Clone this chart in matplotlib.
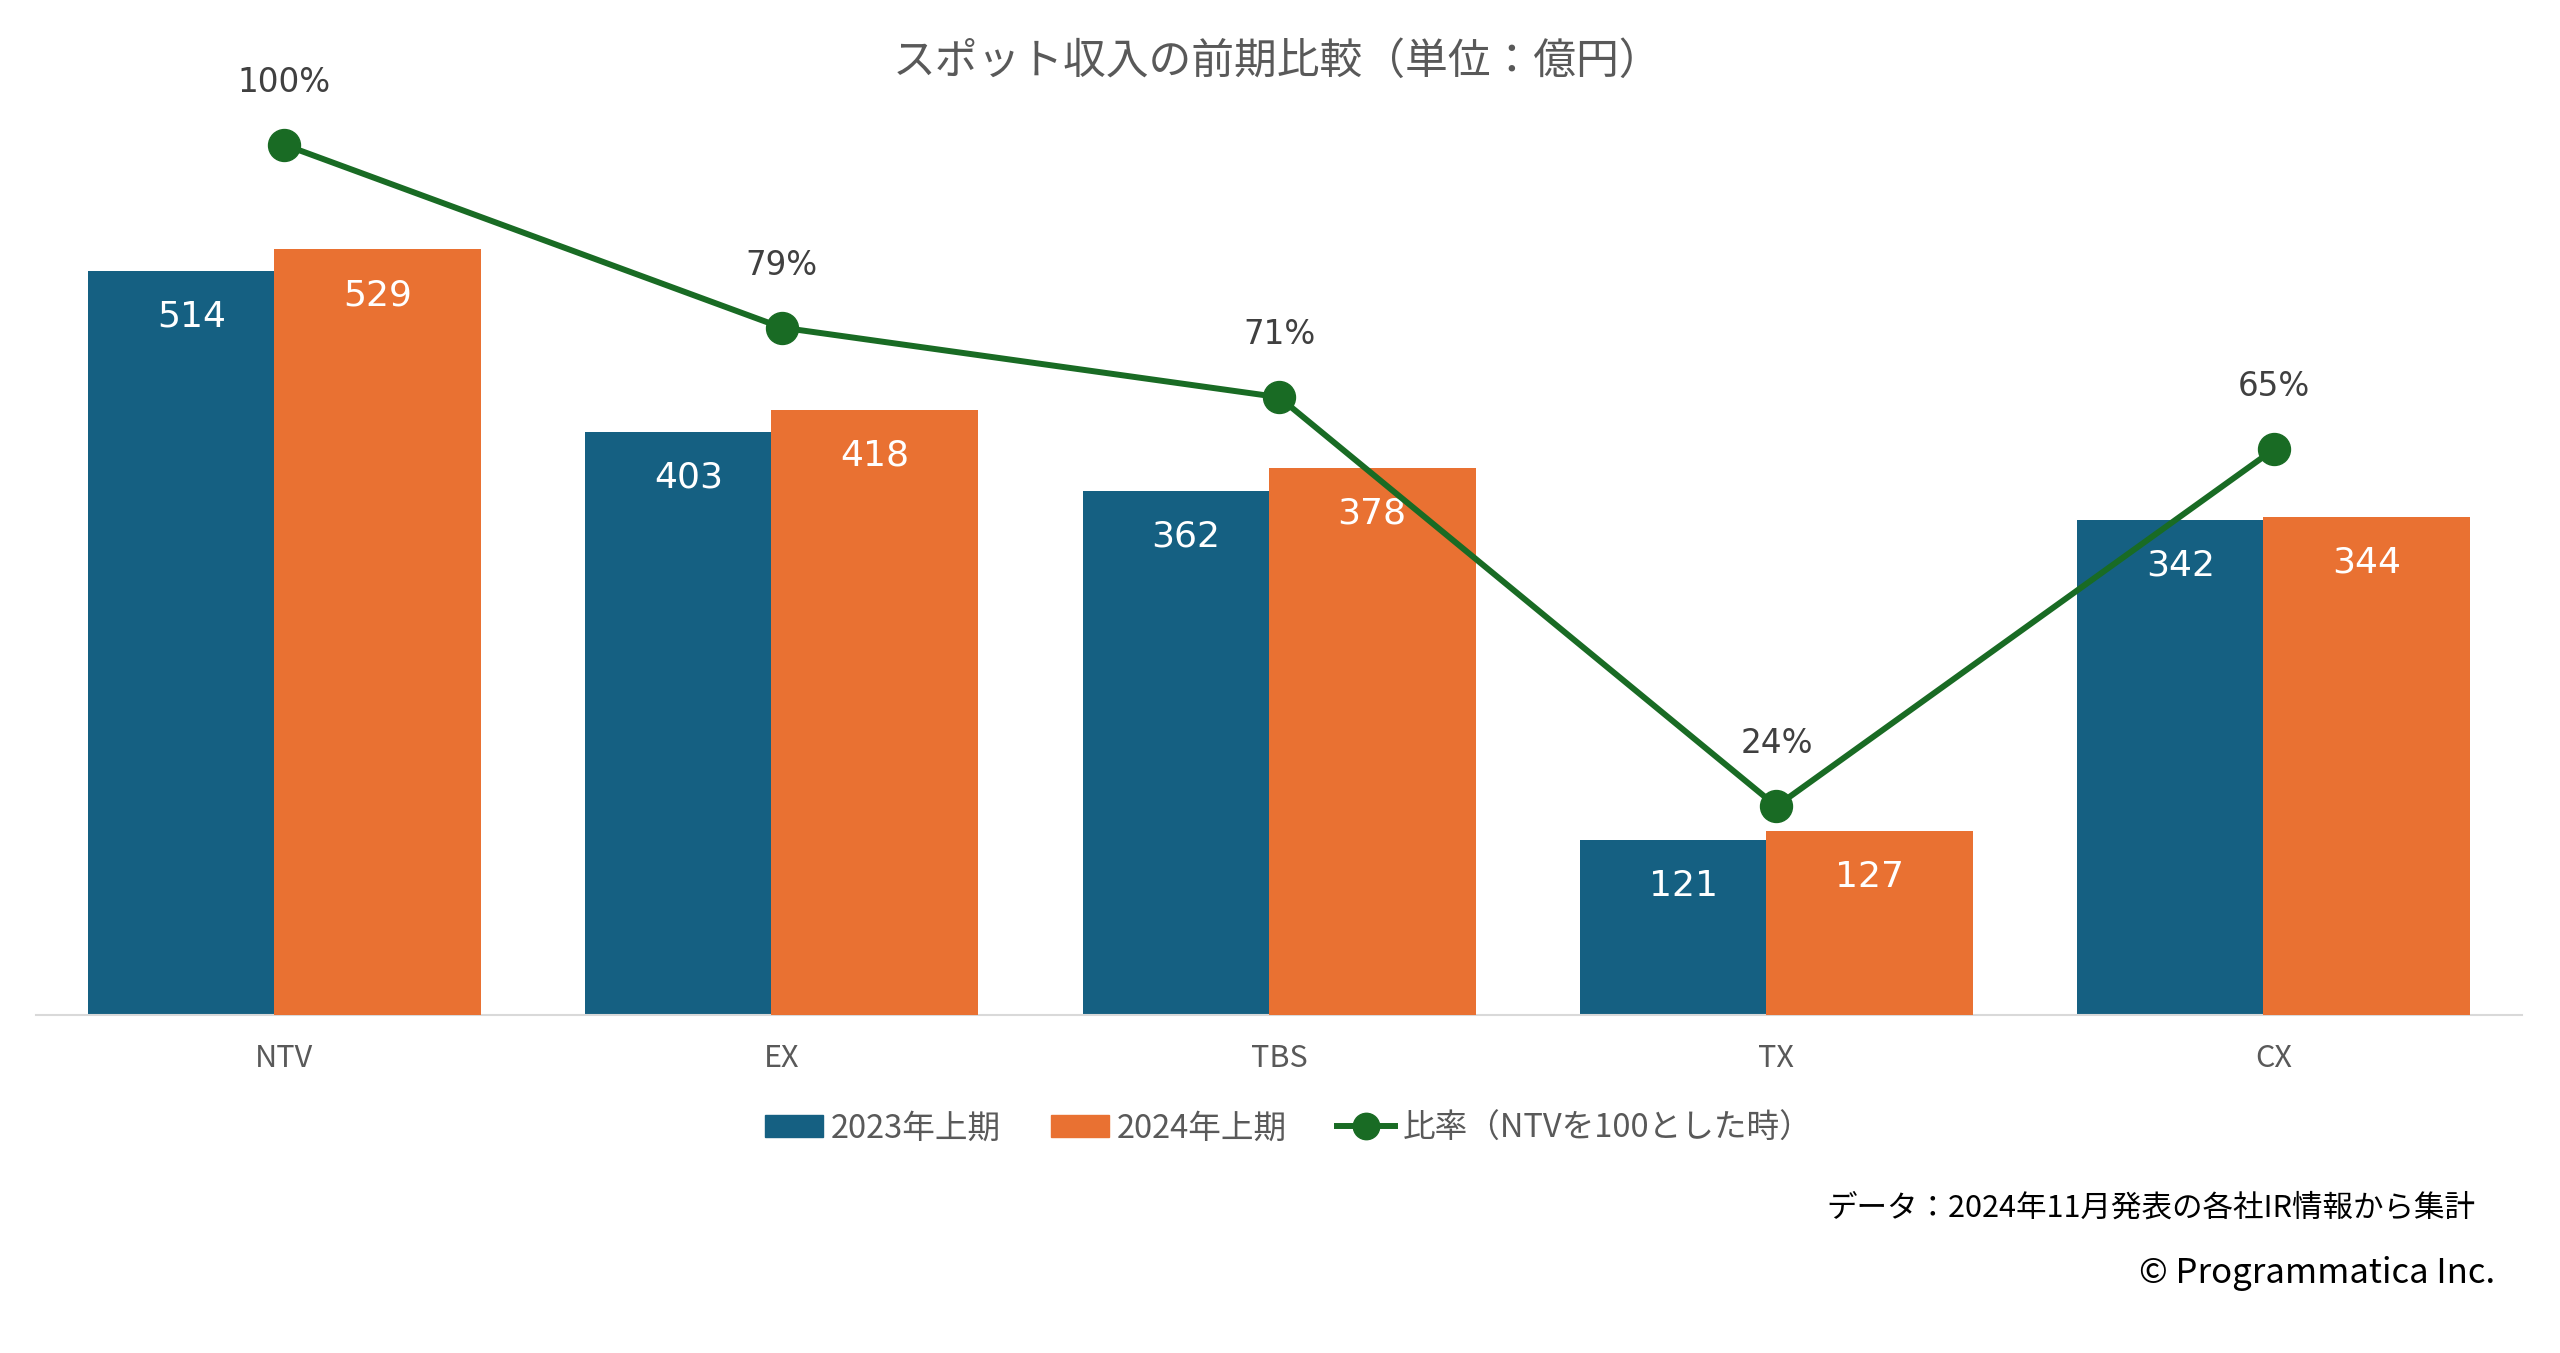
import matplotlib
matplotlib.use("Agg")
import matplotlib.pyplot as plt
from matplotlib.lines import Line2D
from matplotlib.patches import Patch
import numpy as np

plt.rcParams['font.family'] = ['Noto Sans CJK JP', 'DejaVu Sans']

# data
stations = ["NTV", "EX", "TBS", "TX", "CX"]
spot_2023 = [514, 403, 362, 121, 342]
spot_2024 = [529, 418, 378, 127, 344]
ratio = [1.00, 0.79, 0.71, 0.24, 0.65]
ratio_labels = ["100%", "79%", "71%", "24%", "65%"]

BLUE = "#156082"
ORANGE = "#E97132"
GREEN = "#196B24"
GRAY = "#595959"

fig = plt.figure(figsize=(25.6, 13.53), dpi=100)
ax = fig.add_axes([0.014, 0.2497, 0.9713, 0.678])

x = np.arange(len(stations))
w = 0.416
off = 0.187
b1 = ax.bar(x - off, spot_2023, width=w, color=BLUE, zorder=2)
b2 = ax.bar(x + off, spot_2024, width=w, color=ORANGE, zorder=3)

for bars, vals in ((b1, spot_2023), (b2, spot_2024)):
    for r, v in zip(bars, vals):
        ax.annotate(str(v), (r.get_x() + r.get_width() / 2, v),
                    xytext=(0, -33), textcoords="offset points",
                    ha="center", va="center", color="white",
                    fontsize=26, family="DejaVu Sans", zorder=5)

ax.set_xlim(-0.5, 4.5)
ax.set_ylim(0, 633.6)
ax.set_xticks(x)
ax.set_xticklabels(stations, fontsize=22, color=GRAY)
ax.tick_params(axis="x", length=0, pad=20)
ax.set_yticks([])
for s in ("top", "right", "left"):
    ax.spines[s].set_visible(False)
ax.spines["bottom"].set_color("#D9D9D9")
ax.spines["bottom"].set_linewidth(1.5)

ax2 = ax.twinx()
ax2.set_ylim(0, 1.054)
ax2.plot(x, ratio, color=GREEN, lw=4.3, marker="o", markersize=23, zorder=4)
for xi, r, lab in zip(x, ratio, ratio_labels):
    ax2.annotate(lab, (xi, r), xytext=(0, 45), textcoords="offset points",
                 ha="center", va="center", color="#404040", fontsize=23.5,
                 family="DejaVu Sans")
ax2.set_yticks([])
for s in ax2.spines.values():
    s.set_visible(False)

fig.text(0.499, 0.954, "スポット収入の前期比較（単位：億円）", ha="center", va="center",
         fontsize=30.8, color=GRAY)

handles = [Patch(color=BLUE), Patch(color=ORANGE),
           Line2D([], [], color=GREEN, lw=4.3, marker="o", markersize=19)]
labels = ["2023年上期", "2024年上期", "比率（NTVを100とした時）"]
fig.legend(handles, labels, loc="center", bbox_to_anchor=(0.5035, 0.166), ncol=3,
           frameon=False, fontsize=23.5, handlelength=1.75, handletextpad=0.25,
           columnspacing=1.55, labelcolor=GRAY)

fig.text(0.967, 0.107, "データ：2024年11月発表の各社IR情報から集計", ha="right", va="center",
         fontsize=22, color="black")
fig.text(0.9745, 0.059, "© Programmatica Inc.", ha="right", va="center",
         fontsize=25, color="black")

fig.savefig("out.png", dpi=100, facecolor="white")
